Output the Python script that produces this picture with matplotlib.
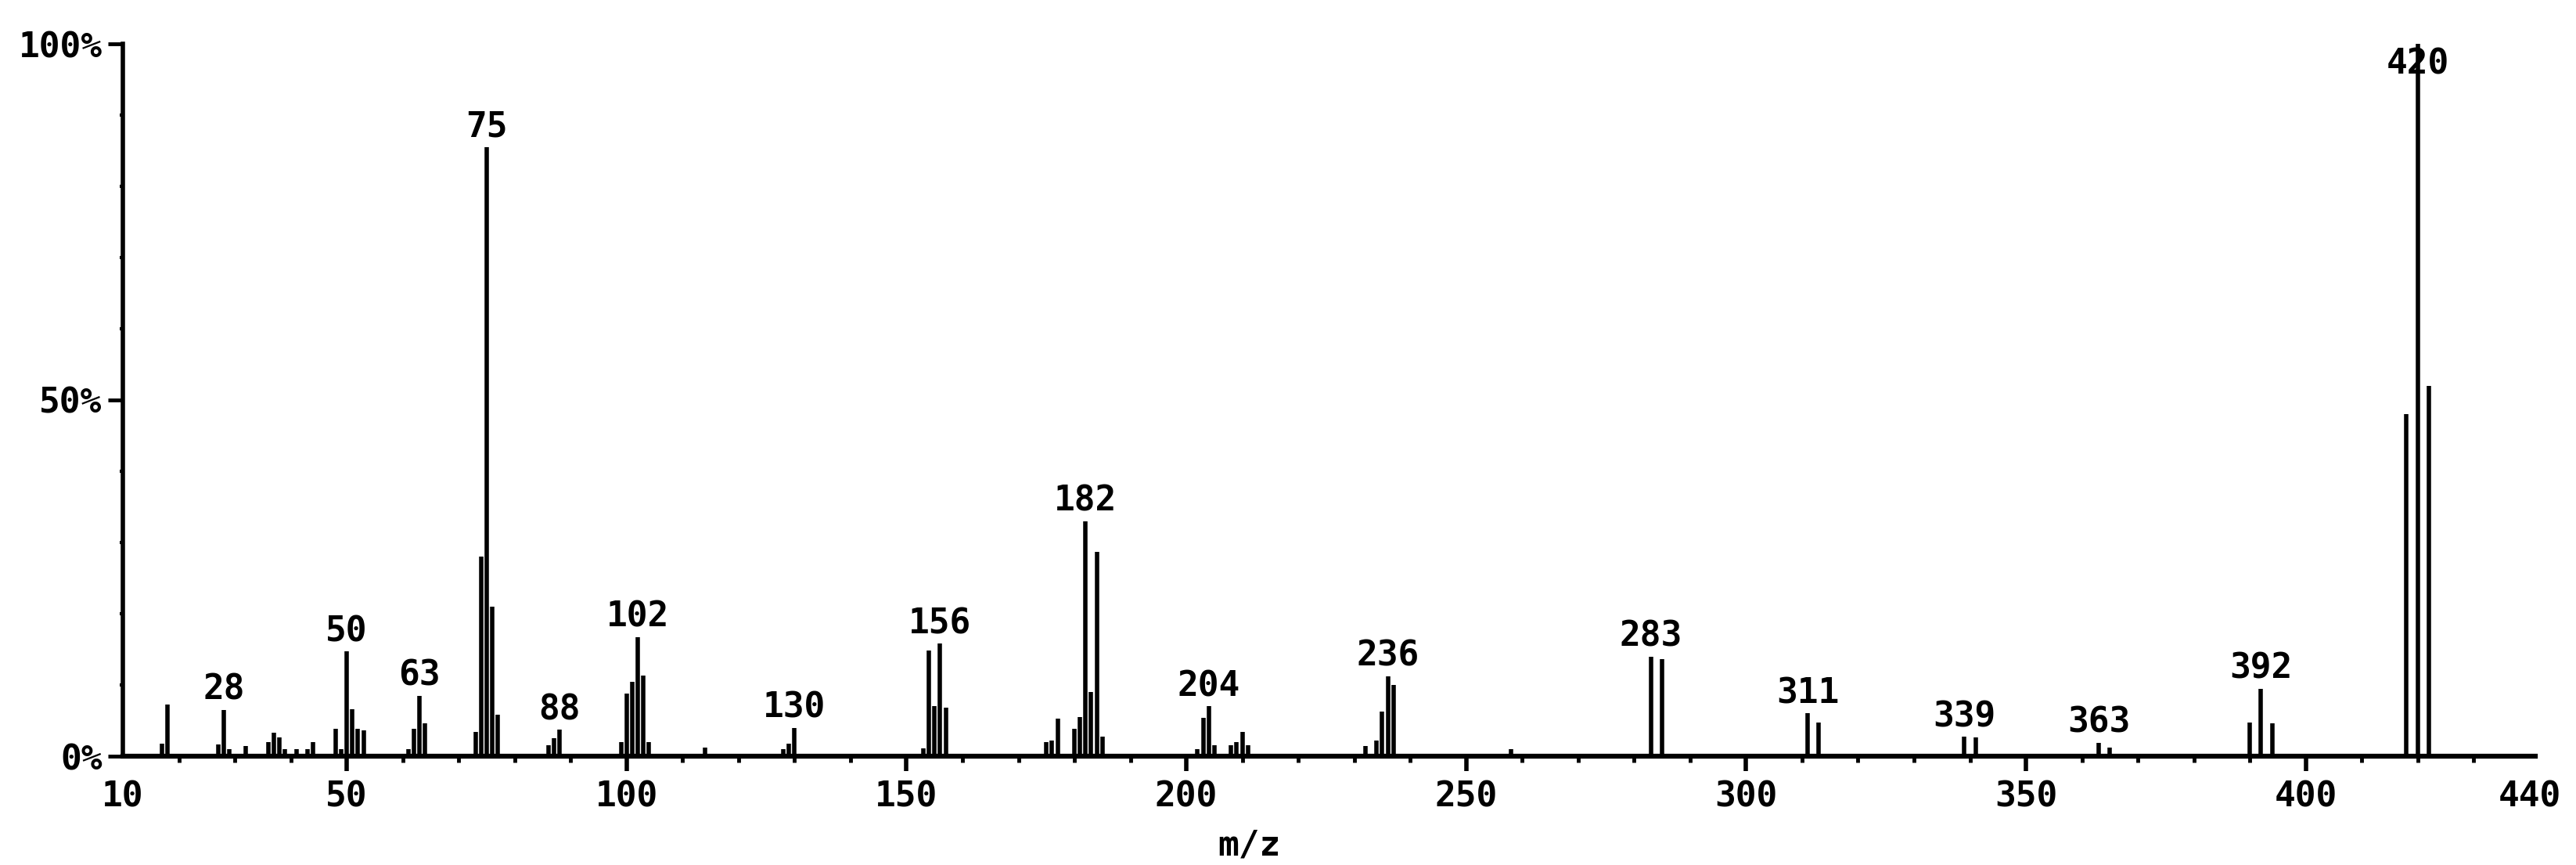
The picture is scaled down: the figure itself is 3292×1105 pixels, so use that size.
import matplotlib
matplotlib.use('Agg')
import matplotlib.pyplot as plt
from matplotlib.ticker import MultipleLocator

# ---- data (m/z, relative intensity %) ----
mz = [17, 18, 27, 28, 29, 32, 36, 37, 38, 39, 41, 43, 44, 48, 49,
      50, 51, 52, 53, 61, 62, 63, 64, 73, 74, 75, 76, 77, 86, 87, 88,
      99, 100, 101, 102, 103, 104, 114, 128, 129, 130,
      153, 154, 155, 156, 157, 175, 176, 177, 180, 181, 182, 183, 184, 185,
      202, 203, 204, 205, 208, 209, 210, 211, 232, 234, 235, 236, 237, 258,
      283, 285, 311, 313, 339, 341, 363, 365, 390, 392, 394, 418, 420, 422]
intensity = [1.8, 7.2, 1.7, 6.5, 1.0, 1.4, 2.0, 3.3, 2.6, 1.0, 1.0, 1.0, 2.0, 3.8, 1.0,
             14.7, 6.6, 3.8, 3.6, 1.0, 3.8, 8.5, 4.6, 3.4, 28.0, 85.5, 21.0, 5.8, 1.5, 2.5, 3.7,
             2.0, 8.8, 10.4, 16.7, 11.3, 2.0, 1.2, 1.0, 1.8, 4.0,
             1.1, 14.8, 7.0, 15.8, 6.8, 2.0, 2.2, 5.3, 3.8, 5.5, 33.0, 9.0, 28.7, 2.7,
             1.0, 5.4, 7.0, 1.5, 1.5, 2.0, 3.4, 1.5, 1.4, 2.2, 6.3, 11.2, 10.0, 1.0,
             14.0, 13.6, 6.0, 4.7, 2.7, 2.6, 1.9, 1.2, 4.7, 9.5, 4.6, 48.0, 100.0, 52.0]
labeled_mz = [28, 50, 63, 75, 88, 102, 130, 156, 182, 204, 236, 283, 311, 339, 363, 392, 420]

x_ticks = [10, 50, 100, 150, 200, 250, 300, 350, 400, 440]
y_ticks = [0, 50, 100]
y_tick_labels = ['0%', '50%', '100%']
x_label = 'm/z'

# ---- figure ----
plt.rcParams['font.family'] = ['DejaVu Sans Mono']
plt.rcParams['font.weight'] = 'bold'

W, H = 3292, 1105
fig = plt.figure(figsize=(W / 100, H / 100), dpi=100)
x0, x1 = 157, 3240
y_base, y_span = 139, 910
ax = fig.add_axes([x0 / W, y_base / H, (x1 - x0) / W, y_span / H])

ax.vlines(mz, 0, intensity, color='black', linewidth=4.0, clip_on=False)

ax.set_xlim(10, 441)
ax.set_ylim(0, 100)
for s in ['top', 'right']:
    ax.spines[s].set_visible(False)
ax.spines['left'].set_linewidth(4)
ax.spines['bottom'].set_linewidth(4.5)

ax.set_xticks(x_ticks)
ax.set_xticklabels([str(t) for t in x_ticks])
ax.xaxis.set_minor_locator(MultipleLocator(10))
ax.set_yticks(y_ticks)
ax.set_yticklabels(y_tick_labels)
ax.yaxis.set_minor_locator(MultipleLocator(10))

ax.tick_params(axis='x', which='major', direction='out', length=14, width=4,
               pad=8, labelsize=32)
ax.tick_params(axis='x', which='minor', direction='out', length=6, width=3.5)
ax.tick_params(axis='y', which='major', direction='out', length=14, width=3.5,
               pad=5, labelsize=32)
ax.tick_params(axis='y', which='minor', direction='out', length=3, width=3)

for t, loc in zip(ax.xaxis.get_major_ticks(), x_ticks):
    if loc in (10, 440):
        t.tick1line.set_visible(False)

for m in labeled_mz:
    h = intensity[mz.index(m)]
    if h > 94:
        ax.annotate(str(m), xy=(m, 94.8), xytext=(0, 0), textcoords='offset points',
                    ha='center', va='bottom', fontsize=32, fontweight='bold',
                    annotation_clip=False)
    else:
        ax.annotate(str(m), xy=(m, h), xytext=(0, 3), textcoords='offset points',
                    ha='center', va='bottom', fontsize=32, fontweight='bold',
                    annotation_clip=False)

ax.set_xlabel(x_label, fontsize=32, fontweight='bold')
ax.xaxis.set_label_coords(0.467, -0.125)
ax.xaxis.label.set_va('center')

fig.savefig('out.png', dpi=100, facecolor='white')
